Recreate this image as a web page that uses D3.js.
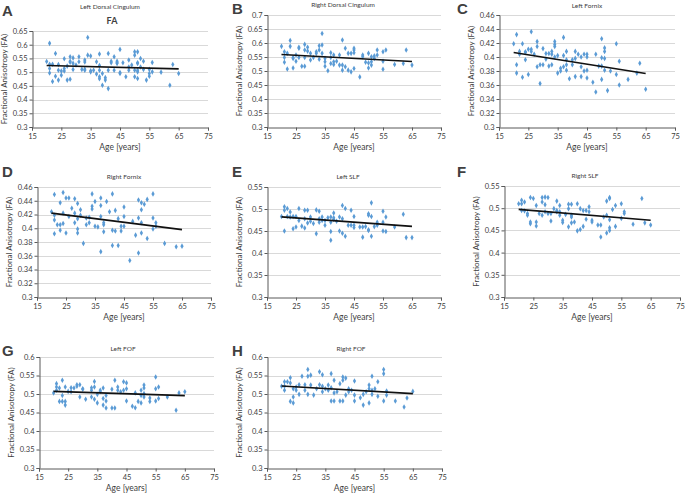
<!DOCTYPE html>
<html>
<head>
<meta charset="utf-8">
<script src="https://cdn.jsdelivr.net/npm/d3@7"></script>
<style>
  html, body { margin: 0; padding: 0; background: #fff; }
  svg { display: block; }
  text { font-family: Lato, "Open Sans", sans-serif; fill: #404040; }
</style>
</head>
<body>
<svg id="chart" width="685" height="494"></svg>
<script>
// ---------------- DATA ----------------
const xTicks = [15, 25, 35, 45, 55, 65, 75];
const yTicks05_065 = [0.3, 0.35, 0.4, 0.45, 0.5, 0.55, 0.6, 0.65];
const yTicks05_07 = [0.3, 0.35, 0.4, 0.45, 0.5, 0.55, 0.6, 0.65, 0.7];
const yTicks02_046 = [0.3, 0.32, 0.34, 0.36, 0.38, 0.4, 0.42, 0.44, 0.46];
const yTicks05_055 = [0.3, 0.35, 0.4, 0.45, 0.5, 0.55];
const yTicks05_06 = [0.3, 0.35, 0.4, 0.45, 0.5, 0.55, 0.6];

const panelLetters = ["A", "B", "C", "D", "E", "F", "G", "H"];
const panelTitles = ["Left Dorsal Cingulum", "Right Dorsal Cingulum", "Left Fornix", "Right Fornix",
                     "Left SLF", "Right SLF", "Left FOF", "Right FOF"];

const leftDorsalCingulum = [[20,0.539],[21,0.605],[21,0.513],[21,0.497],[21,0.529],[22,0.529],[22,0.466],[23,0.568],[23,0.485],[24,0.507],[24,0.471],[24,0.528],[25,0.504],[25,0.489],[26,0.549],[26,0.513],[26,0.504],[27,0.522],[27,0.471],[28,0.474],[28,0.556],[28,0.536],[28,0.54],[29,0.552],[29,0.51],[29,0.532],[30,0.526],[31,0.556],[31,0.538],[32,0.51],[33,0.544],[33,0.537],[33,0.511],[33,0.507],[34,0.626],[34,0.562],[35,0.501],[35,0.559],[35,0.505],[36,0.507],[37,0.538],[37,0.493],[38,0.483],[38,0.476],[38,0.524],[38,0.566],[38,0.507],[39,0.495],[39,0.452],[40,0.48],[40,0.471],[41,0.507],[41,0.568],[41,0.44],[42,0.534],[42,0.54],[43,0.556],[43,0.507],[44,0.54],[44,0.534],[44,0.532],[45,0.583],[45,0.499],[45,0.495],[46,0.534],[47,0.483],[48,0.544],[48,0.507],[48,0.519],[49,0.526],[50,0.507],[50,0.574],[50,0.562],[50,0.483],[51,0.501],[51,0.534],[51,0.532],[51,0.477],[51,0.507],[51,0.574],[52,0.55],[52,0.519],[53,0.51],[53,0.54],[54,0.471],[55,0.51],[55,0.485],[55,0.495],[56,0.501],[56,0.535],[59,0.5],[62,0.452],[63,0.528],[65,0.495]];
const rightDorsalCingulum = [[20,0.588],[21,0.569],[21,0.548],[21,0.531],[22,0.563],[22,0.507],[23,0.609],[23,0.588],[24,0.545],[24,0.511],[24,0.548],[25,0.557],[25,0.535],[26,0.581],[26,0.585],[26,0.548],[27,0.517],[28,0.548],[28,0.595],[28,0.517],[28,0.575],[29,0.585],[29,0.571],[30,0.539],[30,0.563],[31,0.548],[32,0.569],[32,0.563],[33,0.59],[33,0.542],[33,0.575],[34,0.634],[34,0.593],[34,0.563],[35,0.517],[35,0.533],[35,0.545],[36,0.501],[37,0.565],[37,0.527],[37,0.548],[38,0.533],[38,0.523],[38,0.557],[39,0.535],[40,0.521],[40,0.557],[41,0.611],[41,0.521],[41,0.503],[42,0.581],[42,0.515],[43,0.563],[43,0.503],[44,0.497],[44,0.563],[45,0.575],[45,0.565],[45,0.509],[45,0.581],[47,0.479],[48,0.557],[48,0.551],[49,0.531],[50,0.511],[50,0.529],[50,0.563],[51,0.551],[51,0.533],[51,0.521],[52,0.554],[52,0.545],[53,0.557],[53,0.575],[55,0.569],[55,0.535],[55,0.506],[56,0.575],[59,0.523],[62,0.527],[63,0.575],[65,0.521]];
const leftFornix = [[20,0.419],[21,0.432],[21,0.389],[21,0.377],[22,0.404],[22,0.408],[23,0.419],[23,0.371],[24,0.407],[24,0.396],[24,0.407],[25,0.375],[25,0.411],[26,0.436],[26,0.411],[26,0.408],[27,0.404],[28,0.422],[28,0.415],[28,0.386],[29,0.389],[29,0.362],[30,0.389],[30,0.412],[31,0.405],[31,0.397],[32,0.405],[32,0.387],[33,0.404],[33,0.389],[33,0.408],[34,0.422],[34,0.418],[34,0.415],[34,0.4],[35,0.402],[35,0.377],[36,0.38],[36,0.384],[37,0.402],[37,0.428],[37,0.386],[38,0.396],[38,0.381],[38,0.408],[38,0.389],[39,0.369],[40,0.389],[40,0.396],[41,0.372],[41,0.408],[41,0.398],[42,0.404],[43,0.4],[43,0.372],[43,0.386],[44,0.38],[44,0.404],[45,0.381],[45,0.404],[45,0.4],[45,0.37],[47,0.364],[48,0.35],[48,0.404],[49,0.387],[50,0.426],[50,0.399],[50,0.368],[50,0.387],[51,0.413],[51,0.408],[51,0.398],[51,0.381],[52,0.352],[53,0.38],[55,0.419],[55,0.375],[56,0.394],[56,0.36],[59,0.368],[62,0.377],[63,0.391],[65,0.354]];
const rightFornix = [[20,0.424],[21,0.449],[21,0.419],[21,0.412],[21,0.392],[22,0.405],[23,0.437],[23,0.397],[23,0.405],[24,0.452],[24,0.422],[24,0.407],[25,0.393],[25,0.444],[26,0.444],[26,0.417],[27,0.429],[28,0.443],[28,0.422],[28,0.408],[29,0.414],[29,0.436],[29,0.399],[29,0.393],[30,0.427],[30,0.419],[31,0.378],[32,0.415],[32,0.405],[33,0.416],[33,0.408],[34,0.45],[34,0.432],[34,0.428],[35,0.439],[35,0.403],[36,0.402],[37,0.444],[37,0.433],[37,0.417],[37,0.366],[38,0.408],[38,0.405],[38,0.395],[39,0.439],[40,0.424],[41,0.45],[41,0.397],[41,0.375],[42,0.426],[42,0.396],[43,0.414],[43,0.375],[44,0.396],[44,0.403],[45,0.431],[45,0.417],[45,0.403],[47,0.353],[48,0.41],[49,0.39],[50,0.441],[50,0.415],[50,0.364],[51,0.437],[51,0.427],[51,0.408],[51,0.393],[52,0.435],[53,0.442],[53,0.385],[55,0.45],[55,0.415],[55,0.399],[56,0.408],[56,0.403],[59,0.378],[63,0.373],[65,0.374]];
const leftSLF = [[20,0.483],[21,0.505],[21,0.497],[21,0.45],[22,0.501],[22,0.483],[23,0.493],[23,0.482],[24,0.455],[24,0.483],[25,0.459],[25,0.483],[26,0.474],[26,0.501],[27,0.461],[28,0.478],[28,0.497],[28,0.457],[29,0.497],[29,0.468],[30,0.482],[30,0.472],[31,0.467],[32,0.498],[32,0.444],[33,0.495],[33,0.478],[33,0.47],[34,0.474],[34,0.482],[35,0.474],[35,0.463],[36,0.48],[37,0.482],[37,0.449],[37,0.429],[37,0.47],[38,0.491],[38,0.476],[38,0.48],[39,0.472],[40,0.482],[40,0.45],[41,0.508],[41,0.478],[41,0.445],[42,0.501],[42,0.438],[43,0.463],[44,0.497],[44,0.463],[45,0.483],[45,0.463],[45,0.458],[47,0.459],[48,0.436],[48,0.459],[49,0.46],[50,0.489],[50,0.486],[50,0.453],[50,0.451],[51,0.514],[51,0.483],[51,0.438],[52,0.46],[53,0.463],[53,0.47],[55,0.495],[55,0.47],[55,0.45],[56,0.449],[56,0.482],[59,0.459],[62,0.488],[63,0.435],[65,0.435]];
const rightSLF = [[20,0.51],[21,0.518],[21,0.51],[21,0.495],[22,0.514],[22,0.494],[23,0.488],[23,0.484],[24,0.524],[24,0.469],[24,0.465],[25,0.522],[26,0.506],[26,0.469],[26,0.46],[27,0.488],[28,0.524],[28,0.514],[28,0.484],[29,0.525],[29,0.508],[29,0.492],[30,0.524],[30,0.488],[31,0.471],[31,0.488],[32,0.499],[33,0.516],[33,0.492],[33,0.495],[34,0.506],[34,0.484],[34,0.492],[35,0.473],[35,0.468],[36,0.486],[37,0.458],[37,0.509],[37,0.499],[38,0.48],[38,0.467],[38,0.509],[38,0.484],[39,0.469],[40,0.51],[40,0.449],[41,0.452],[41,0.499],[42,0.459],[42,0.495],[43,0.475],[43,0.495],[44,0.503],[44,0.492],[45,0.469],[45,0.473],[47,0.462],[48,0.462],[48,0.435],[49,0.48],[50,0.516],[50,0.484],[50,0.444],[51,0.524],[51,0.522],[51,0.474],[51,0.456],[51,0.45],[52,0.497],[53,0.506],[53,0.459],[55,0.51],[55,0.477],[56,0.492],[56,0.488],[59,0.464],[62,0.522],[63,0.467],[65,0.462]];
const leftFOF = [[20,0.503],[21,0.528],[21,0.519],[21,0.51],[22,0.48],[22,0.516],[23,0.537],[23,0.496],[23,0.48],[24,0.48],[24,0.47],[24,0.519],[25,0.507],[26,0.517],[26,0.506],[27,0.516],[28,0.521],[28,0.525],[29,0.492],[29,0.525],[30,0.513],[30,0.514],[31,0.486],[33,0.517],[33,0.492],[33,0.51],[34,0.519],[34,0.534],[34,0.486],[35,0.499],[35,0.476],[36,0.507],[36,0.51],[37,0.516],[37,0.47],[37,0.488],[38,0.462],[38,0.496],[38,0.481],[40,0.513],[40,0.462],[41,0.537],[41,0.462],[42,0.51],[42,0.519],[43,0.506],[44,0.533],[44,0.51],[45,0.53],[45,0.481],[45,0.514],[47,0.467],[48,0.463],[48,0.503],[49,0.48],[50,0.51],[50,0.496],[50,0.476],[51,0.524],[51,0.516],[51,0.501],[51,0.492],[53,0.489],[53,0.48],[55,0.546],[55,0.514],[55,0.481],[56,0.519],[56,0.488],[59,0.492],[62,0.456],[63,0.503],[65,0.506]];
const rightFOF = [[20,0.521],[21,0.533],[21,0.51],[21,0.521],[22,0.533],[23,0.53],[23,0.544],[23,0.48],[24,0.476],[24,0.492],[24,0.514],[25,0.51],[25,0.519],[26,0.525],[26,0.499],[27,0.548],[28,0.525],[28,0.51],[29,0.566],[29,0.548],[29,0.499],[30,0.524],[30,0.551],[31,0.497],[32,0.514],[33,0.525],[33,0.56],[34,0.521],[34,0.552],[34,0.506],[35,0.514],[36,0.51],[36,0.524],[37,0.555],[37,0.481],[37,0.517],[38,0.537],[38,0.503],[38,0.481],[39,0.506],[40,0.528],[40,0.481],[41,0.546],[41,0.537],[41,0.481],[42,0.543],[42,0.497],[43,0.514],[43,0.506],[44,0.51],[45,0.535],[45,0.481],[45,0.497],[47,0.49],[48,0.47],[48,0.499],[49,0.506],[50,0.524],[50,0.476],[50,0.514],[51,0.548],[51,0.51],[51,0.499],[52,0.514],[53,0.533],[53,0.494],[55,0.566],[55,0.555],[55,0.481],[56,0.508],[56,0.497],[59,0.481],[62,0.465],[63,0.489],[65,0.507]];

// regression line end points [age, FA]
const trendLines = [
  [[20, 0.524], [65, 0.512]],
  [[20, 0.559], [65, 0.534]],
  [[20, 0.4065], [65, 0.3765]],
  [[20, 0.422], [65, 0.398]],
  [[20, 0.482], [65, 0.4606]],
  [[20, 0.4974], [65, 0.4727]],
  [[20, 0.507], [65, 0.4955]],
  [[20, 0.5216], [65, 0.501]]
];

const seriesList = [leftDorsalCingulum, rightDorsalCingulum, leftFornix, rightFornix, leftSLF, rightSLF, leftFOF, rightFOF];
const yTickSets = [yTicks05_065, yTicks05_07, yTicks02_046, yTicks02_046, yTicks05_055, yTicks05_055, yTicks05_06, yTicks05_06];

// ---------------- LAYOUT (positions only) ----------------
const layout = [
  { l: 32,  r: 208, t: 31,  b: 127, titleX: 110, titleY: 9,   letterX: 2,   letterY: 16 },
  { l: 267, r: 441, t: 15,  b: 127, titleX: 343, titleY: 7,   letterX: 232, letterY: 14 },
  { l: 499, r: 675, t: 15,  b: 127, titleX: 587, titleY: 8,   letterX: 457, letterY: 14 },
  { l: 37,  r: 211, t: 187, b: 297, titleX: 124, titleY: 179, letterX: 2,   letterY: 177 },
  { l: 267, r: 441, t: 187, b: 297, titleX: 348, titleY: 179, letterX: 232, letterY: 177 },
  { l: 504, r: 680, t: 186, b: 297, titleX: 585, titleY: 178, letterX: 457, letterY: 177 },
  { l: 39,  r: 214, t: 357, b: 468, titleX: 123, titleY: 351, letterX: 2,   letterY: 356 },
  { l: 267, r: 442, t: 357, b: 468, titleX: 351, titleY: 351, letterX: 232, letterY: 356 }
];

const svg = d3.select("#chart");
const fmt = v => String(+v.toFixed(2));
const markerColor = "#5b9bd5";

seriesList.forEach((data, i) => {
  const L = layout[i];
  const yT = yTickSets[i];
  const x = d3.scaleLinear().domain([15, 75]).range([L.l, L.r]);
  const y = d3.scaleLinear().domain([0.3, yT[yT.length - 1]]).range([L.b, L.t]);
  const g = svg.append("g");

  // gridlines
  g.append("g").selectAll("line").data(yT.slice(1)).join("line")
    .attr("x1", L.l).attr("x2", L.r)
    .attr("y1", d => Math.round(y(d)) + 0.5).attr("y2", d => Math.round(y(d)) + 0.5)
    .attr("stroke", "#d9d9d9").attr("stroke-width", 1);

  // y axis
  const yAxis = d3.axisLeft(y).tickValues(yT).tickFormat(fmt).tickSize(3).tickPadding(2);
  const ya = g.append("g").attr("transform", `translate(${Math.round(L.l) + 0.5},0)`).call(yAxis);
  ya.select(".domain").attr("stroke", "#595959");
  ya.selectAll(".tick line").attr("stroke", "#595959");
  ya.selectAll(".tick text").attr("font-size", 7.5).attr("fill", "#404040")
    .style("font-family", "Lato, sans-serif");

  // x axis
  const xAxis = d3.axisBottom(x).tickValues(xTicks).tickFormat(d3.format("d")).tickSize(3).tickPadding(3);
  const xa = g.append("g").attr("transform", `translate(0,${Math.round(L.b) + 0.5})`).call(xAxis);
  xa.select(".domain").attr("stroke", "#595959");
  xa.selectAll(".tick line").attr("stroke", "#595959");
  xa.selectAll(".tick text").attr("font-size", 7.5).attr("fill", "#404040")
    .style("font-family", "Lato, sans-serif");

  // points (small diamonds)
  const sym = d3.symbol().type(d3.symbolDiamond).size(9);
  g.append("g").selectAll("path").data(data).join("path")
    .attr("d", sym)
    .attr("transform", d => `translate(${x(d[0])},${y(d[1])})`)
    .attr("fill", markerColor);

  // trend line
  const line = d3.line().x(d => x(d[0])).y(d => y(d[1]));
  g.append("path").datum(trendLines[i]).attr("d", line)
    .attr("fill", "none").attr("stroke", "#111").attr("stroke-width", 1.6);

  // axis titles
  g.append("text").attr("x", (L.l + L.r) / 2).attr("y", L.b + 23)
    .attr("text-anchor", "middle").attr("font-size", 8.5).attr("fill", "#404040")
    .text("Age [years]");
  g.append("text")
    .attr("transform", `translate(${L.l - 25},${(L.t + L.b) / 2}) rotate(-90)`)
    .attr("text-anchor", "middle").attr("font-size", 8).attr("fill", "#404040")
    .text("Fractional Anisotropy (FA)");

  // panel title
  g.append("text").attr("x", L.titleX).attr("y", L.titleY)
    .attr("text-anchor", "middle").attr("font-size", 6.5).attr("fill", "#404040")
    .text(panelTitles[i]);

  // panel letter
  g.append("text").attr("x", L.letterX).attr("y", L.letterY)
    .attr("font-size", 15).attr("font-weight", "bold").attr("fill", "#000")
    .style("font-family", "'Liberation Sans', Arial, sans-serif")
    .text(panelLetters[i]);
});

// "FA" heading above panel A
svg.append("text").attr("x", 112).attr("y", 24).attr("text-anchor", "middle")
  .attr("font-size", 9).attr("font-weight", "bold").attr("fill", "#262626").text("FA");
</script>
</body>
</html>
